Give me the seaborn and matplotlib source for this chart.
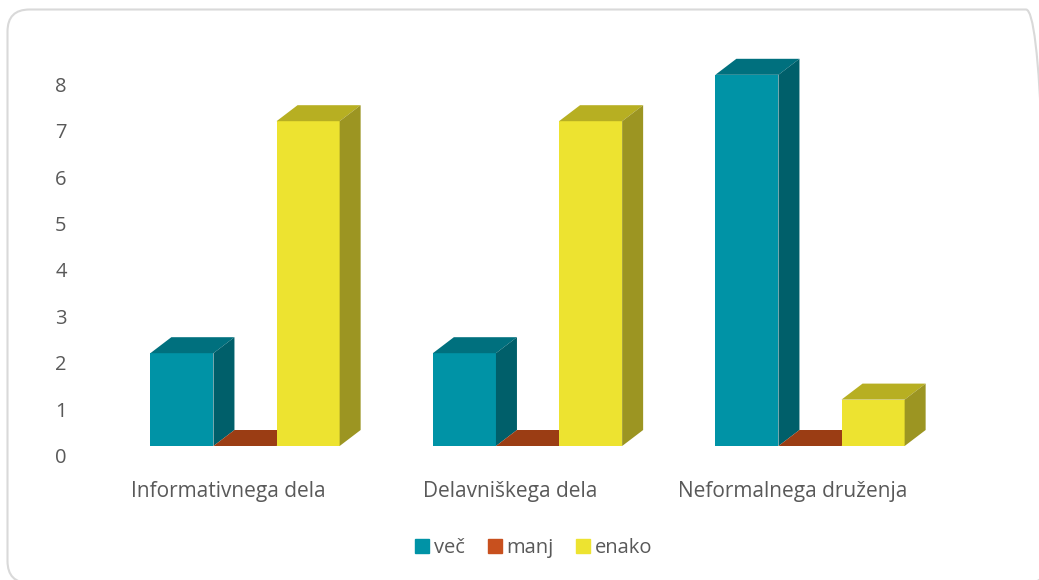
import numpy as np
import pandas as pd
import matplotlib
matplotlib.use("Agg")
import matplotlib.pyplot as plt
import seaborn as sns
from matplotlib.patches import Polygon, FancyBboxPatch
from matplotlib.transforms import ScaledTranslation, IdentityTransform
from matplotlib.lines import Line2D

categories = ["Informativnega dela", "Delavniškega dela", "Neformalnega druženja"]
series = ["več", "manj", "enako"]
vec = [2, 2, 8]
manj = [0, 0, 0]
enako = [7, 7, 1]
yticks = [0, 1, 2, 3, 4, 5, 6, 7, 8]

front_colors = ["#0093A6", "#C8501E", "#EDE330"]
top_colors = ["#00707E", "#9B3D14", "#B7AF22"]
side_colors = ["#005F6A", "#84330F", "#9C9522"]
legend_colors = ["#0093A6", "#C8501E", "#EDE330"]

df = pd.DataFrame({
    "kategorija": np.repeat(categories, len(series)),
    "serija": series * len(categories),
    "vrednost": [v for trip in zip(vec, manj, enako) for v in trip],
})

sns.set_theme(style="white")
plt.rcParams["font.family"] = ["Open Sans", "DejaVu Sans"]

W, H, DPI = 1039, 580, 100
TXT = "#595959"
FS = 14.5
fig = plt.figure(figsize=(W / DPI, H / DPI), dpi=DPI)

# rounded chart border (pixel coordinates, origin bottom-left)
border = FancyBboxPatch((7.5, H - 583), 1048 - 7.5, 583 - 9.5,
                        boxstyle="round,pad=0,rounding_size=22",
                        transform=IdentityTransform(), fill=False,
                        edgecolor="#D9D9D9", linewidth=1.5)
fig.patches.append(border)

ax_left, ax_right = 103.75, 951.25
ax_bottom_px = 134
px_per_unit = 46.4
ymax = 8.5
ax = fig.add_axes([ax_left / W, ax_bottom_px / H, (ax_right - ax_left) / W, ymax * px_per_unit / H])

sns.barplot(data=df, x="kategorija", y="vrednost", hue="serija", order=categories,
            hue_order=series, palette=front_colors, width=0.67, dodge=True,
            saturation=1, ax=ax, legend=False, linewidth=0, errorbar=None)

ax.set_xlim(-0.5, 2.5)
ax.set_ylim(0, ymax)

# depth of the 3D effect, in data units
dx = 21 / ((ax_right - ax_left) / 3)
dy = 16 / px_per_unit

front_hex = [matplotlib.colors.to_hex(c) for c in front_colors]
bars = sorted(ax.patches, key=lambda p: p.get_x())
for i, p in enumerate(bars):
    idx = front_hex.index(matplotlib.colors.to_hex(p.get_facecolor()))
    z = 2 + i * 0.01
    p.set_zorder(z)
    x0 = p.get_x()
    x1 = x0 + p.get_width()
    y0 = p.get_y()
    y1 = y0 + p.get_height()
    top = Polygon([(x0, y1), (x0 + dx, y1 + dy), (x1 + dx, y1 + dy), (x1, y1)],
                  closed=True, facecolor=top_colors[idx], edgecolor="none", zorder=z)
    side = Polygon([(x1, y0), (x1, y1), (x1 + dx, y1 + dy), (x1 + dx, y0 + dy)],
                   closed=True, facecolor=side_colors[idx], edgecolor="none", zorder=z)
    ax.add_patch(top)
    ax.add_patch(side)

for s in ax.spines.values():
    s.set_visible(False)
ax.grid(False)
ax.set_xlabel("")
ax.set_ylabel("")

# y tick labels (value-axis labels sit 12 px below the front faces)
ax.set_yticks(yticks)
ax.set_yticklabels([])
ax.tick_params(axis="y", length=0)
ytrans = ax.get_yaxis_transform() + ScaledTranslation((61 - ax_left) / DPI, -12 / DPI, fig.dpi_scale_trans)
for t in yticks:
    ax.text(0, t, str(t), transform=ytrans, ha="center", va="center",
            fontsize=FS, color=TXT, clip_on=False)

# category labels (shifted slightly left, as in the 3D perspective)
ax.set_xticks(range(len(categories)))
ax.set_xticklabels([])
ax.tick_params(axis="x", length=0)
xtrans = ax.get_xaxis_transform() + ScaledTranslation(-17 / DPI, -46 / DPI, fig.dpi_scale_trans)
for i, c in enumerate(categories):
    ax.text(i, 0, c, transform=xtrans, ha="center", va="center",
            fontsize=15, color=TXT, clip_on=False)

handles = [Line2D([0], [0], marker="s", linestyle="none", markersize=10,
                  markerfacecolor=c, markeredgecolor=c) for c in legend_colors]
fig.legend(handles, series, loc="center", bbox_to_anchor=(533 / W, (H - 548) / H),
           ncol=3, frameon=False, fontsize=FS, labelcolor=TXT,
           handletextpad=0.15, columnspacing=1.0, handlelength=0.9)

fig.savefig("out.png", dpi=DPI)
